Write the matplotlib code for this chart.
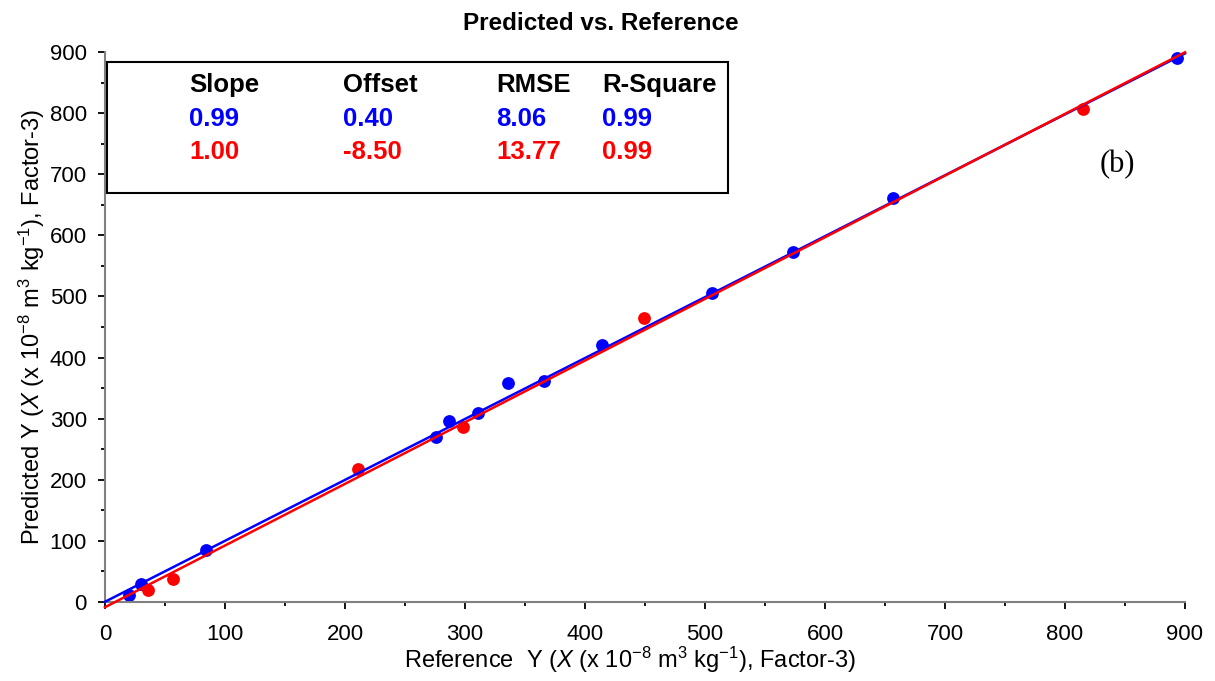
import matplotlib.pyplot as plt
from matplotlib.patches import Rectangle

plt.rcParams['font.family'] = ['Liberation Sans', 'DejaVu Sans']
plt.rcParams['mathtext.fontset'] = 'custom'
plt.rcParams['mathtext.rm'] = 'Liberation Sans'
plt.rcParams['mathtext.it'] = 'Liberation Sans:italic'

# calibration set (blue) and validation set (red)
blue_ref = [20, 30, 84, 276, 287, 311, 336, 366, 414, 506, 573, 657, 893]
blue_pred = [11, 29, 85, 270, 296, 309, 358, 362, 421, 505, 573, 661, 890]
red_ref = [36, 57, 211, 298, 449, 815]
red_pred = [20, 37, 218, 286, 465, 807]

# fitted lines (slope, offset) as drawn
blue_line = (0.997, 0.40)
red_line = (1.009, -8.50)

stat_names = ['Slope', 'Offset', 'RMSE', 'R-Square']
blue_stats = ['0.99', '0.40', '8.06', '0.99']
red_stats = ['1.00', '-8.50', '13.77', '0.99']

fig = plt.figure(figsize=(12.15, 6.81), dpi=100)
ax = fig.add_axes([0.0864, 0.116, 0.8889, 0.8076])

ax.scatter(blue_ref, blue_pred, s=85, color='#0000ff', zorder=2, linewidths=0)
ax.scatter(red_ref, red_pred, s=85, color='#ff0000', zorder=2, linewidths=0)

xs = [0, 900]
ax.plot(xs, [blue_line[0] * x + blue_line[1] for x in xs], color='#0000ff', lw=1.8, zorder=3, clip_on=False)
ax.plot(xs, [red_line[0] * x + red_line[1] for x in xs], color='#ff0000', lw=1.8, zorder=4, clip_on=False)

ax.set_xlim(0, 900)
ax.set_ylim(0, 900)
ax.set_xticks(range(0, 901, 100))
ax.set_yticks(range(0, 901, 100))
ax.set_xticks(range(50, 900, 100), minor=True)
ax.set_yticks(range(50, 900, 100), minor=True)

for s in ['top', 'right']:
    ax.spines[s].set_visible(False)
for s in ['left', 'bottom']:
    ax.spines[s].set_color('#808080')
    ax.spines[s].set_linewidth(1.5)
ax.tick_params(which='major', direction='out', length=5, width=1.3, color='black', labelsize=16)
ax.tick_params(which='minor', direction='out', length=3, width=1.3, color='black')
ax.tick_params(axis='x', which='major', pad=11)
ax.tick_params(axis='y', which='major', pad=8)

ax.set_title('Predicted vs. Reference', fontsize=17.5, fontweight='bold', x=0.459, pad=16)
ax.set_xlabel(r'Reference  Y ($\mathit{X}$ (x 10$^{-8}$ m$^{3}$ kg$^{-1}$), Factor-3)', fontsize=17, x=0.486, labelpad=0)
ax.set_ylabel(r'Predicted Y ($\mathit{X}$ (x 10$^{-8}$ m$^{3}$ kg$^{-1}$), Factor-3)', fontsize=17, labelpad=2)

# statistics box
ax.add_patch(Rectangle((0.002, 0.744), 0.575, 0.238, transform=ax.transAxes,
                       fill=False, edgecolor='black', lw=1.5, zorder=5, clip_on=False))
col_x = [0.078, 0.220, 0.362, 0.460]
for i in range(len(stat_names)):
    ax.text(col_x[i], 0.940, stat_names[i], transform=ax.transAxes, fontsize=18.5,
            fontweight='bold', va='center', ha='left')
    ax.text(col_x[i], 0.878, blue_stats[i], transform=ax.transAxes, fontsize=18.5,
            fontweight='bold', color='#0000ff', va='center', ha='left')
    ax.text(col_x[i], 0.818, red_stats[i], transform=ax.transAxes, fontsize=18.5,
            fontweight='bold', color='#ff0000', va='center', ha='left')

ax.text(0.937, 0.795, '(b)', transform=ax.transAxes, fontsize=22,
        family='Liberation Serif', va='center', ha='center')

fig.savefig('out.png', dpi=100)
